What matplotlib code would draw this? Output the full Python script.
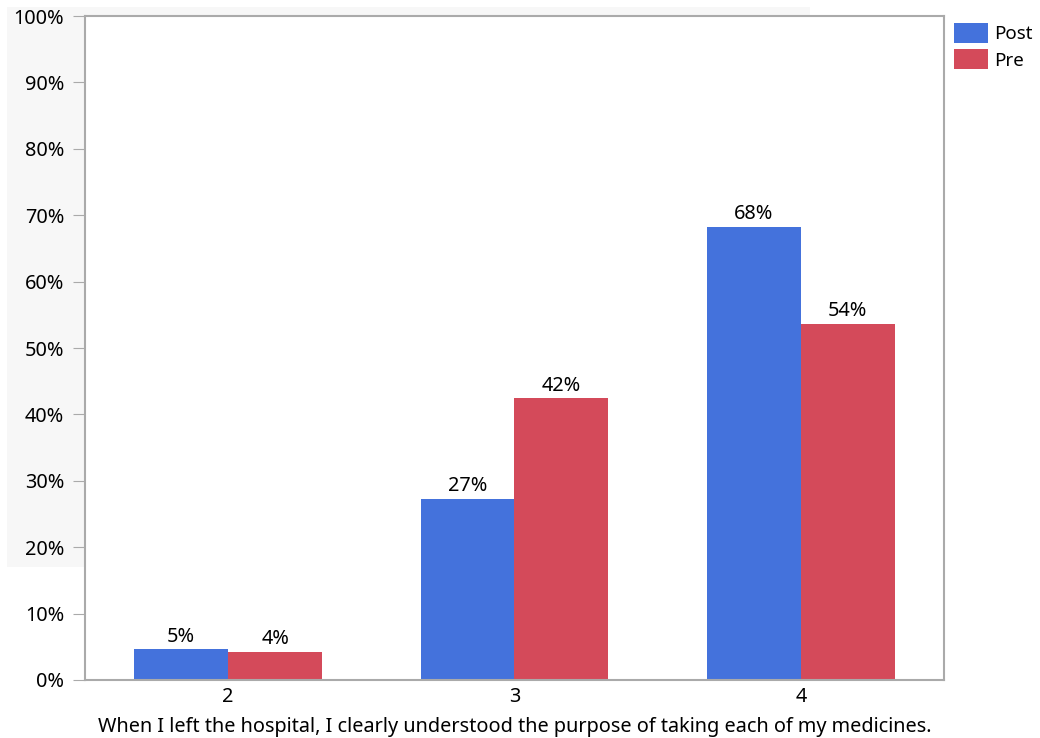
import matplotlib
matplotlib.use("Agg")
import matplotlib.pyplot as plt
import numpy as np
from matplotlib.patches import Rectangle
from matplotlib.ticker import PercentFormatter

plt.rcParams['font.family'] = ['Noto Sans', 'DejaVu Sans']

categories = ["2", "3", "4"]
post = [4.6, 27.3, 68.2]
pre = [4.2, 42.4, 53.6]
post_labels = ["5%", "27%", "68%"]
pre_labels = ["4%", "42%", "54%"]
xlabel = "When I left the hospital, I clearly understood the purpose of taking each of my medicines."

fs = 14.3

fig = plt.figure(figsize=(10.4, 7.38), dpi=100)

# light gray panel behind the left part of the plot
fig.patches.append(Rectangle((0.0067, 0.2317), 0.772, 0.7588, transform=fig.transFigure,
                             facecolor="#f7f7f7", edgecolor="none", zorder=-5))

ax = fig.add_axes([0.0817, 0.0786, 0.826, 0.8997])
ax.set_facecolor("white")

x = np.arange(len(categories))
w = 0.328
b1 = ax.bar(x - w / 2, post, w, color="#4472dc", label="Post")
b2 = ax.bar(x + w / 2, pre, w, color="#d44a5a", label="Pre")

ax.bar_label(b1, labels=post_labels, padding=2, fontsize=fs)
ax.bar_label(b2, labels=pre_labels, padding=2, fontsize=fs)

ax.set_xlim(-0.5, 2.5)
ax.set_ylim(0, 100)
ax.set_yticks(np.arange(0, 101, 10))
ax.yaxis.set_major_formatter(PercentFormatter(decimals=0))
ax.set_xticks(x)
ax.set_xticklabels(categories)
ax.tick_params(axis="x", length=0, pad=5, labelsize=fs)
ax.tick_params(axis="y", length=9, color="#aaaaaa", pad=6, labelsize=fs)
for s in ax.spines.values():
    s.set_color("#aaaaaa")
    s.set_linewidth(1.5)
ax.set_xlabel(xlabel, fontsize=fs, labelpad=7)

fig.legend(loc="upper left", bbox_to_anchor=(0.917, 0.969), frameon=False,
           handlelength=1.85, handleheight=1.3, handletextpad=0.3, labelspacing=0.3,
           fontsize=13.5, borderaxespad=0, borderpad=0)

fig.savefig("out.png", dpi=100)
